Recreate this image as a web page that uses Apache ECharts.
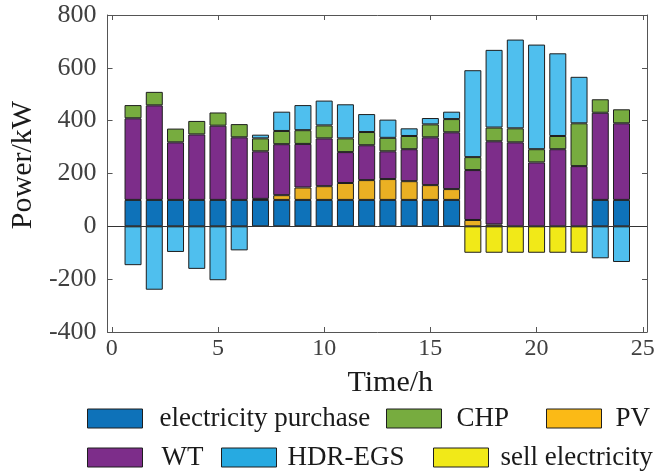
<!DOCTYPE html>
<html>
<head>
<meta charset="utf-8">
<script src="https://cdn.jsdelivr.net/npm/echarts@6/dist/echarts.min.js"></script>
<style>
html,body{margin:0;padding:0;background:#fff;}
#chart{width:660px;height:472px;}
</style>
</head>
<body>
<div id="chart"></div>
<script>
const hours = [1,2,3,4,5,6,7,8,9,10,11,12,13,14,15,16,17,18,19,20,21,22,23,24];
const purchase = [100,100,100,100,100,100,100,100,100,100,100,100,100,100,100,100,0,0,0,0,0,0,100,100];
const pv = [0,0,0,0,0,0,4,18,47,52,64,75,79,71,56,41,24,7,0,0,0,0,0,0];
const wt = [309,358,218,248,281,237,180,193,165,181,117,132,105,121,181,215,189,315,318,242,292,228,330,290];
const chp = [50,51,52,51,50,50,49,50,52,49,52,50,51,50,49,50,49,52,53,50,50,162,51,53];
const hdr = [-147,-240,-97,-161,-204,-91,14,73,95,94,129,68,69,29,24,28,329,294,336,396,313,176,-121,-135];
const sell = [0,0,0,0,0,0,0,0,0,0,0,0,0,0,0,0,-100,-100,-100,-100,-100,-100,0,0];
const xTicks = [0,5,10,15,20,25];
const yTicks = [-400,-200,0,200,400,600,800];

const FONT = "'Liberation Serif','Times New Roman',serif";
const chart = echarts.init(document.getElementById('chart'), null, {renderer:'canvas'});

// value first (stacked dimension), hour second
function pairs(arr){ return hours.map((h,i)=>[arr[i] === 0 ? null : arr[i], h]); }

const names = ['electricity purchase','PV','WT','CHP','HDR-EGS','sell electricity'];
const colors = ['#0E72B9','#EAB023','#7D2D8A','#77AC3F','#4FBFEE','#F1E918'];
const legendColors = {'electricity purchase':'#0E72B9','CHP':'#77AC3F','PV':'#FBBA16','WT':'#7D2D8A','HDR-EGS':'#27AAE1','sell electricity':'#F1E918'};
const dataArr = [purchase, pv, wt, chp, hdr, sell];

const series = names.map((n,i)=>({
  name:n, type:'bar', stack:'total', barWidth:17,
  data: pairs(dataArr[i]),
  encode:{x:1, y:0},
  itemStyle:{color:colors[i], borderColor:'#1e1e1e', borderWidth:1},
  emphasis:{disabled:true},
  animation:false
}));
series[0].markLine = {
  silent:true, symbol:'none', label:{show:false},
  lineStyle:{color:'#333', width:1, type:'solid'},
  data:[{yAxis:0}], animation:false
};

function legendAt(name, left, top, padLeft){
  return {
    data:[{name:name, icon:'rect', itemStyle:{color:legendColors[name], borderColor:'#1e1e1e', borderWidth:1}}],
    left:left, top:top, padding:0, itemWidth:55, itemHeight:19, itemGap:0,
    selectedMode:false,
    textStyle:{fontFamily:FONT, fontSize:27, color:'#1a1a1a', lineHeight:27, padding:[0,0,0,padLeft]}
  };
}

const tickLabel = {fontFamily:FONT, color:'#404040'};

const option = {
  animation:false,
  backgroundColor:'#fff',
  grid:{left:102, right:13, top:15, bottom:140, containLabel:false},
  legend:[
    legendAt('electricity purchase', 87, 405, 12),
    legendAt('CHP', 386, 405, 10),
    legendAt('PV', 546, 405, 9),
    legendAt('WT', 87, 444, 14),
    legendAt('HDR-EGS', 221, 444, 6),
    legendAt('sell electricity', 433, 444, 7)
  ],
  xAxis:[{
    type:'value', min:-0.2, max:25.2, position:'bottom',
    name:'Time/h', nameLocation:'middle', nameGap:36,
    nameTextStyle:{fontFamily:FONT, fontSize:30, color:'#1a1a1a', padding:[0,0,0,26]},
    axisLine:{show:true, onZero:false, lineStyle:{color:'#555', width:1}},
    axisTick:{show:true, inside:true, length:5, customValues:xTicks, lineStyle:{color:'#555'}},
    axisLabel:{show:true, customValues:xTicks, fontSize:24, margin:5, ...tickLabel},
    splitLine:{show:false}
  },{
    type:'value', min:-0.2, max:25.2, position:'top',
    axisLine:{show:true, onZero:false, lineStyle:{color:'#555', width:1}},
    axisTick:{show:true, inside:true, length:5, customValues:xTicks, lineStyle:{color:'#555'}},
    axisLabel:{show:false}, splitLine:{show:false}
  }],
  yAxis:[{
    type:'value', min:-400, max:800, interval:200, position:'left',
    name:'Power/kW', nameLocation:'middle', nameGap:60,
    nameTextStyle:{fontFamily:FONT, fontSize:30, color:'#1a1a1a', padding:[0,0,0,17]},
    axisLine:{show:true, onZero:false, lineStyle:{color:'#555', width:1}},
    axisTick:{show:true, inside:true, length:5, lineStyle:{color:'#555'}},
    axisLabel:{show:true, fontSize:26, margin:11, ...tickLabel},
    splitLine:{show:false}
  },{
    type:'value', min:-400, max:800, interval:200, position:'right',
    axisLine:{show:true, onZero:false, lineStyle:{color:'#555', width:1}},
    axisTick:{show:true, inside:true, length:5, lineStyle:{color:'#555'}},
    axisLabel:{show:false}, splitLine:{show:false}
  }],
  series: series
};
chart.setOption(option);
</script>
</body>
</html>
